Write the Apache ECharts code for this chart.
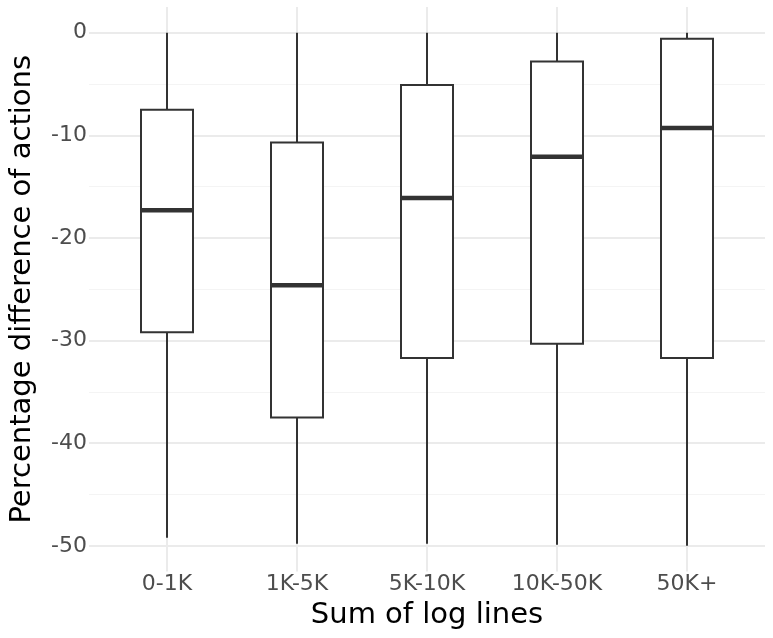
<!DOCTYPE html>
<html>
<head>
    <meta charset="utf-8">
    <title></title>
    <script src="https://cdn.jsdelivr.net/npm/echarts@6/dist/echarts.min.js"></script>
    <style>
        html, body {
            margin: 0;
            padding: 0;
            background: #fff;
        }
        #main {
            width: 773px;
            height: 638px;
        }
    </style>
</head>
<body>
    <div id="main"></div>
    <script>
        // 分组
        var categories = ['0-1K', '1K-5K', '5K-10K', '10K-50K', '50K+'];
        // 箱线图五个数
        var whiskerLow = [-49.2, -49.8, -49.8, -49.9, -50];
        var q1 = [-29.2, -37.5, -31.7, -30.3, -31.7];
        var median = [-17.3, -24.6, -16.1, -12.1, -9.3];
        var q3 = [-7.5, -10.7, -5.1, -2.8, -0.6];
        var whiskerHigh = [0, 0, 0, 0, 0];
        // 刻度
        var yTicks = [-50, -40, -30, -20, -10, 0];
        var yMinorTicks = [-45, -35, -25, -15, -5];
        var xTicks = [1, 2, 3, 4, 5];

        var boxData = [];
        for (var i = 0; i < categories.length; i++) {
            boxData.push([i + 1, whiskerLow[i], q1[i], median[i], q3[i], whiskerHigh[i]]);
        }

        var font = 'DejaVu Sans';
        var gridColor = '#ebebeb';
        var lineColor = '#333333';

        var option = {
            backgroundColor: '#fff',
            animation: false,
            grid: {
                left: 82.5,
                top: 7,
                width: 682.5,
                height: 564.5
            },
            xAxis: {
                type: 'value',
                min: 0.4,
                max: 5.6,
                name: 'Sum of log lines',
                nameLocation: 'middle',
                nameGap: 29,
                nameTextStyle: { fontFamily: font, fontSize: 29, color: '#000' },
                axisLine: { show: false },
                axisTick: { show: false, customValues: xTicks },
                axisLabel: {
                    customValues: xTicks,
                    margin: 2,
                    fontFamily: font,
                    fontSize: 22,
                    color: '#4d4d4d',
                    formatter: function (v) {
                        return categories[Math.round(v) - 1];
                    }
                },
                splitLine: { show: true, lineStyle: { color: gridColor, width: 2 } }
            },
            yAxis: [{
                type: 'value',
                min: -52.5,
                max: 2.5,
                name: 'Percentage difference of actions',
                nameLocation: 'middle',
                nameGap: 52,
                nameTextStyle: { fontFamily: font, fontSize: 29, color: '#000' },
                axisLine: { show: false },
                axisTick: { show: false, customValues: yTicks },
                axisLabel: {
                    customValues: yTicks,
                    margin: 2,
                    fontFamily: font,
                    fontSize: 22,
                    color: '#4d4d4d'
                },
                splitLine: { show: true, lineStyle: { color: gridColor, width: 2 } },
                z: 1
            }, {
                // 次网格线
                type: 'value',
                min: -52.5,
                max: 2.5,
                position: 'left',
                axisLine: { show: false },
                axisTick: { show: false, customValues: yMinorTicks },
                axisLabel: { show: false, customValues: yMinorTicks },
                splitLine: { show: true, lineStyle: { color: '#f4f4f4', width: 1 } },
                z: 0
            }],
            series: [{
                type: 'custom',
                xAxisIndex: 0,
                yAxisIndex: 0,
                data: boxData,
                encode: { x: 0, y: [1, 2, 3, 4, 5] },
                renderItem: function (params, api) {
                    var x = api.value(0);
                    var pLow = api.coord([x, api.value(1)]);
                    var pQ1 = api.coord([x, api.value(2)]);
                    var pMed = api.coord([x, api.value(3)]);
                    var pQ3 = api.coord([x, api.value(4)]);
                    var pHigh = api.coord([x, api.value(5)]);
                    var halfW = api.size([0.4, 0])[0] / 2;
                    var st = { stroke: lineColor, lineWidth: 2, fill: null };
                    return {
                        type: 'group',
                        children: [{
                            type: 'line',
                            shape: { x1: pHigh[0], y1: pHigh[1], x2: pQ3[0], y2: pQ3[1] },
                            style: st
                        }, {
                            type: 'line',
                            shape: { x1: pQ1[0], y1: pQ1[1], x2: pLow[0], y2: pLow[1] },
                            style: st
                        }, {
                            type: 'rect',
                            shape: { x: pQ3[0] - halfW, y: pQ3[1], width: halfW * 2, height: pQ1[1] - pQ3[1] },
                            style: { fill: '#fff', stroke: lineColor, lineWidth: 2 }
                        }, {
                            type: 'line',
                            shape: { x1: pMed[0] - halfW, y1: pMed[1], x2: pMed[0] + halfW, y2: pMed[1] },
                            style: { stroke: lineColor, lineWidth: 4.5 }
                        }]
                    };
                }
            }]
        };

        var chart = echarts.init(document.getElementById('main'));
        chart.setOption(option);
    </script>
</body>
</html>
